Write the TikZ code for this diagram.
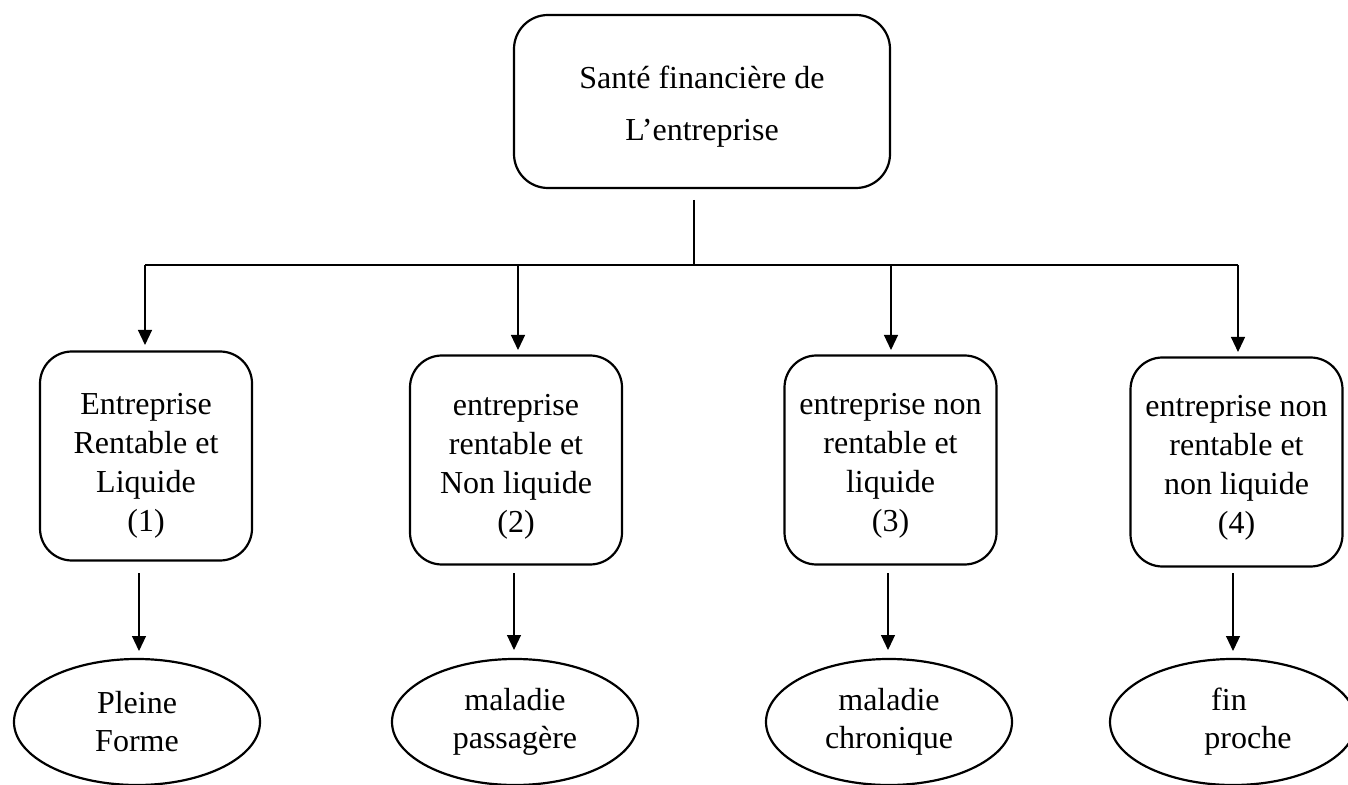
\documentclass[tikz,border=0pt]{standalone}
\usepackage{fontspec}
\setmainfont{Liberation Serif}
\usetikzlibrary{arrows.meta,shapes.geometric}
\newcommand\dropline[1]{\rule{0pt}{#1}}
\begin{document}
\begin{tikzpicture}[x=0.5pt,y=-0.5pt,
  topbox/.style={draw,line width=1.1pt,rounded corners=17pt,minimum width=188pt,minimum height=86.5pt,align=center,font=\fontsize{16}{26}\selectfont,inner sep=0pt},
  midbox/.style={draw,line width=1.1pt,rounded corners=16pt,minimum width=106pt,minimum height=104.5pt,align=center,font=\fontsize{16}{19.5}\selectfont,inner sep=0pt},
  endell/.style={draw,line width=1.1pt,ellipse,minimum width=123pt,minimum height=63pt,align=center,font=\fontsize{16}{19}\selectfont,inner sep=0pt},
  conn/.style={line width=0.6pt},
  arr/.style={line width=0.6pt,-{Triangle[length=7.5pt,width=7pt]}}]
\clip (0,0) rectangle (1348,785);
\fill[white] (0,0) rectangle (1348,785);

\node[topbox] (top) at (702,101.5) {\dropline{16pt}Santé financière de\\L’entreprise};

\node[midbox] (b1) at (146,456) {\dropline{20pt}Entreprise\\Rentable et\\Liquide\\(1)};
\node[midbox] (b2) at (516,460) {\dropline{17pt}entreprise\\rentable et\\Non liquide\\(2)};
\node[midbox] (b3) at (890.5,460) {\dropline{16pt}entreprise non\\rentable et\\liquide\\(3)};
\node[midbox] (b4) at (1236.5,462) {\dropline{16pt}entreprise non\\rentable et\\non liquide\\(4)};

\node[endell] (e1) at (137,722) {Pleine\\Forme};
\node[endell] (e2) at (515,722) {maladie\\passagère};
\node[endell] (e3) at (889,722) {maladie\\chronique};
\node[endell] (e4) at (1233,722) {fin\hspace*{4pt}\\\hspace*{15pt}proche};

\coordinate (stemtop) at (694,200);
\coordinate (stembot) at (694,265);
\coordinate (h1) at (145,265);
\coordinate (h2) at (518,265);
\coordinate (h3) at (891,265);
\coordinate (h4) at (1238,265);
\coordinate (t1) at (145,345);
\coordinate (t2) at (518,350);
\coordinate (t3) at (891,350);
\coordinate (t4) at (1238,352);

\draw[conn] (stemtop) -- (stembot);
\draw[conn] (h1) -- (h4);
\draw[arr] (h1) -- (t1);
\draw[arr] (h2) -- (t2);
\draw[arr] (h3) -- (t3);
\draw[arr] (h4) -- (t4);

\coordinate (s1) at (139,573);
\coordinate (s2) at (514,573);
\coordinate (s3) at (888,573);
\coordinate (s4) at (1233,573);
\coordinate (u1) at (139,651);
\coordinate (u2) at (514,650);
\coordinate (u3) at (888,650);
\coordinate (u4) at (1233,651);
\draw[arr] (s1) -- (u1);
\draw[arr] (s2) -- (u2);
\draw[arr] (s3) -- (u3);
\draw[arr] (s4) -- (u4);
\end{tikzpicture}
\end{document}
